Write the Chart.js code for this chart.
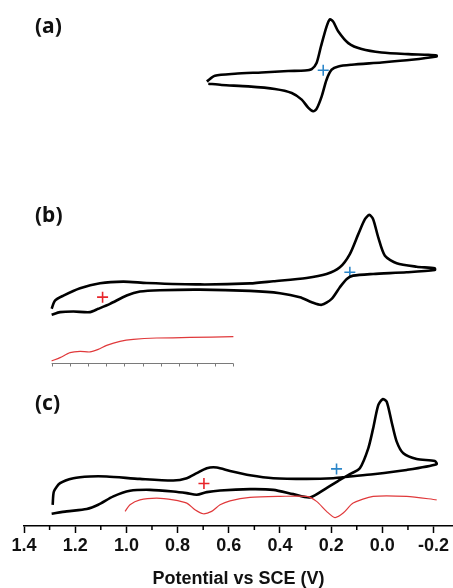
<!DOCTYPE html>
<html><head><meta charset="utf-8">
<script src="https://cdn.jsdelivr.net/npm/chart.js@4/dist/chart.umd.min.js"></script>
<style>html,body{margin:0;padding:0;background:#fff}canvas{display:block}</style>
</head><body>
<canvas id="c" width="453" height="588"></canvas>
<script>
// ---- data: potential E (V vs SCE) and current I (arbitrary units) ----
// panel (a)
const cvA_E = [0.686,0.654,0.576,0.472,0.368,0.302,0.276,0.257,0.240,0.218,0.205,0.192,0.172,0.133,0.081,0.003,-0.101,-0.179,-0.212,
               -0.212,-0.114,0.003,0.120,0.172,0.198,0.218,0.237,0.257,0.270,0.289,0.315,0.354,0.420,0.524,0.628,0.680];
const cvA_I = [6.83,7.40,7.60,7.73,7.87,7.93,8.07,8.67,10.33,12.33,13.07,12.83,11.83,10.67,10.07,9.73,9.57,9.50,9.43,
               9.33,9.00,8.73,8.50,8.33,8.00,7.00,5.33,4.07,3.83,4.17,5.00,5.67,6.07,6.33,6.47,6.60];
const markA_blue = [[0.231, 7.95]];

// panel (b)
const cvB_E = [1.292,1.279,1.246,1.181,1.103,1.012,0.921,0.713,0.517,0.426,0.296,0.218,0.166,0.127,0.094,0.068,0.051,0.036,0.016,-0.010,-0.056,-0.134,-0.205,
               -0.205,-0.095,0.036,0.114,0.139,0.166,0.198,0.237,0.276,0.322,0.400,0.517,0.713,0.869,0.947,0.999,1.064,1.110,1.142,1.207,1.259,1.292];
const cvB_I = [7.00,7.83,8.33,9.07,9.57,9.73,9.60,9.45,9.55,9.77,10.10,10.50,11.17,12.50,14.50,16.00,16.43,16.00,14.17,12.33,11.57,11.23,11.07,
               10.90,10.67,10.50,10.33,10.00,9.17,8.00,7.40,7.67,8.17,8.57,8.80,8.93,8.87,8.73,8.33,7.50,7.00,6.67,6.73,6.67,6.40];
const insetB_E = [1.292,1.259,1.220,1.181,1.142,1.110,1.077,1.025,0.973,0.882,0.752,0.582];
const insetB_I = [1.77,2.10,2.60,2.73,2.67,2.93,3.33,3.73,3.93,4.07,4.13,4.20];
const insetB_axisTicks = [1.292,1.221,1.150,1.079,1.008,0.937,0.866,0.795,0.724,0.653,0.582];
const insetB_axisLevel = 1.57;
const markB_red = [[1.093, 8.17]];
const markB_blue = [[0.127, 10.67]];

// panel (c)
const cvC_E = [1.292,1.233,1.155,1.110,1.051,0.986,0.908,0.817,0.764,0.725,0.686,0.634,0.517,0.426,0.348,0.283,
               0.218,0.166,0.127,0.088,0.055,0.036,0.016,-0.001,-0.017,-0.036,-0.056,-0.082,-0.134,-0.205,-0.212,
               -0.095,0.036,0.127,0.192,0.296,0.426,0.517,0.595,0.647,0.686,0.725,0.764,0.817,0.947,1.077,1.142,1.207,1.259,1.283,1.288];
const cvC_I = [1.23,1.47,1.70,2.13,2.97,3.53,3.63,3.47,3.30,3.13,3.40,3.57,3.70,3.63,3.20,2.87,
               3.80,4.63,5.20,5.80,7.80,9.80,12.13,12.73,12.47,10.47,8.47,7.30,6.73,6.53,6.20,
               5.63,5.20,4.97,4.80,4.73,4.80,5.10,5.53,5.87,5.80,5.30,4.80,4.57,4.73,4.97,4.97,4.80,4.30,3.47,2.13];
const redC_E = [1.005,0.986,0.947,0.882,0.817,0.764,0.732,0.700,0.667,0.634,0.595,0.517,0.400,0.296,0.257,0.218,0.185,0.153,0.114,0.036,-0.095,-0.212];
const redC_I = [1.47,2.13,2.63,2.80,2.63,2.30,1.63,1.23,1.47,2.13,2.53,2.87,2.97,2.97,2.47,1.47,0.85,1.30,2.30,2.97,2.97,2.63];
const markC_red = [[0.697, 4.27]];
const markC_blue = [[0.179, 5.73]];

// axis ticks / labels
const xTickValues = [-0.2,-0.1,0.0,0.1,0.2,0.3,0.4,0.5,0.6,0.7,0.8,0.9,1.0,1.1,1.2,1.3,1.4];
const xTickLabels = ['-0.2','','0.0','','0.2','','0.4','','0.6','','0.8','','1.0','','1.2','','1.4'];
const panelLabels = ['(a)','(b)','(c)'];

// ---- build ----
const pts = (E, I) => E.map((e, i) => ({x: e, y: I[i]}));
const mk = arr => arr.map(p => ({x: p[0], y: p[1]}));
const BLACK = '#000', RED = '#e0393b', BLUE = '#2b86c9', MRED = '#e8262b';
const curve = (E, I, axis, color, w) => ({data: pts(E, I), yAxisID: axis, showLine: true, borderColor: color,
  borderWidth: w, pointRadius: 0, tension: 0.25, fill: false});
const marker = (arr, axis, color) => ({data: mk(arr), yAxisID: axis, showLine: false, pointStyle: 'cross',
  pointRadius: 5.5, pointBorderColor: color, pointBorderWidth: 1.6, pointBackgroundColor: color});

const FONT = '"Liberation Sans", Arial, sans-serif';

const decor = {
  id: 'decor',
  afterDraw(chart) {
    const {ctx} = chart;
    const x = chart.scales.x, yb = chart.scales.yb;
    ctx.save();
    // inset axis in (b)
    ctx.strokeStyle = '#7a7a7a'; ctx.lineWidth = 1;
    const yp = Math.round(yb.getPixelForValue(insetB_axisLevel)) + 0.5;
    ctx.beginPath();
    ctx.moveTo(x.getPixelForValue(insetB_axisTicks[0]), yp);
    ctx.lineTo(x.getPixelForValue(insetB_axisTicks[insetB_axisTicks.length - 1]), yp);
    insetB_axisTicks.forEach(v => { const px = Math.round(x.getPixelForValue(v)) + 0.5; ctx.moveTo(px, yp); ctx.lineTo(px, yp + 3); });
    ctx.stroke();
    // minor ticks on main axis
    ctx.strokeStyle = '#000'; ctx.lineWidth = 1.5;
    ctx.beginPath();
    xTickValues.forEach((v, i) => {
      if (xTickLabels[i] !== '') return;
      const px = x.getPixelForValue(v);
      ctx.moveTo(px, x.top); ctx.lineTo(px, x.top + 4);
    });
    ctx.stroke();
    // panel labels
    ctx.fillStyle = '#111';
    ctx.font = 'bold 21px "Noto Sans", sans-serif';
    ctx.textBaseline = 'middle';
    ctx.textAlign = 'left';
    const ids = ['ya', 'yb', 'yc'], dy = [27, 67, 25];
    ids.forEach((id, i) => ctx.fillText(panelLabels[i], 35, chart.scales[id].top + dy[i]));
    ctx.restore();
  }
};

new Chart(document.getElementById('c'), {
  type: 'scatter',
  data: {
    datasets: [
      curve(cvA_E, cvA_I, 'ya', BLACK, 2.6),
      marker(markA_blue, 'ya', BLUE),
      curve(cvB_E, cvB_I, 'yb', BLACK, 2.6),
      curve(insetB_E, insetB_I, 'yb', RED, 1.2),
      marker(markB_red, 'yb', MRED),
      marker(markB_blue, 'yb', BLUE),
      curve(redC_E, redC_I, 'yc', RED, 1.2),
      curve(cvC_E, cvC_I, 'yc', BLACK, 2.6),
      marker(markC_red, 'yc', MRED),
      marker(markC_blue, 'yc', BLUE)
    ]
  },
  options: {
    responsive: false,
    devicePixelRatio: 1,
    animation: false,
    layout: {autoPadding: false, padding: {left: 24, right: 0, top: 0, bottom: 0}},
    plugins: {legend: {display: false}, tooltip: {enabled: false}},
    scales: {
      x: {
        type: 'linear', position: 'bottom', reverse: true, min: -0.276, max: 1.4,
        afterBuildTicks: s => { s.ticks = xTickValues.map(v => ({value: v})); },
        ticks: {autoSkip: false, maxRotation: 0, minRotation: 0, padding: 2, color: '#111',
          font: {family: FONT, size: 18, weight: 'bold'},
          callback: (v, i) => xTickLabels[i]},
        grid: {drawOnChartArea: false, drawTicks: true, tickLength: 7, tickWidth: 1.5,
          tickColor: c => (c.index !== undefined && xTickLabels[c.index] !== '') ? '#000' : 'rgba(0,0,0,0)'},
        border: {display: true, color: '#000', width: 1.5},
        title: {display: true, text: 'Potential vs SCE (V)', color: '#111',
          font: {family: FONT, size: 18, weight: 'bold', lineHeight: 1}, padding: {top: 11.4, bottom: 0}}
      },
      ya: {type: 'linear', position: 'left', display: false, min: 0, max: 15, stack: 'panels', stackWeight: 150, weight: 3},
      yb: {type: 'linear', position: 'left', display: false, min: 0, max: 23, stack: 'panels', stackWeight: 230, weight: 2},
      yc: {type: 'linear', position: 'left', display: false, min: 0, max: 14.8, stack: 'panels', stackWeight: 148, weight: 1}
    }
  },
  plugins: [decor]
});
</script>
</body></html>
